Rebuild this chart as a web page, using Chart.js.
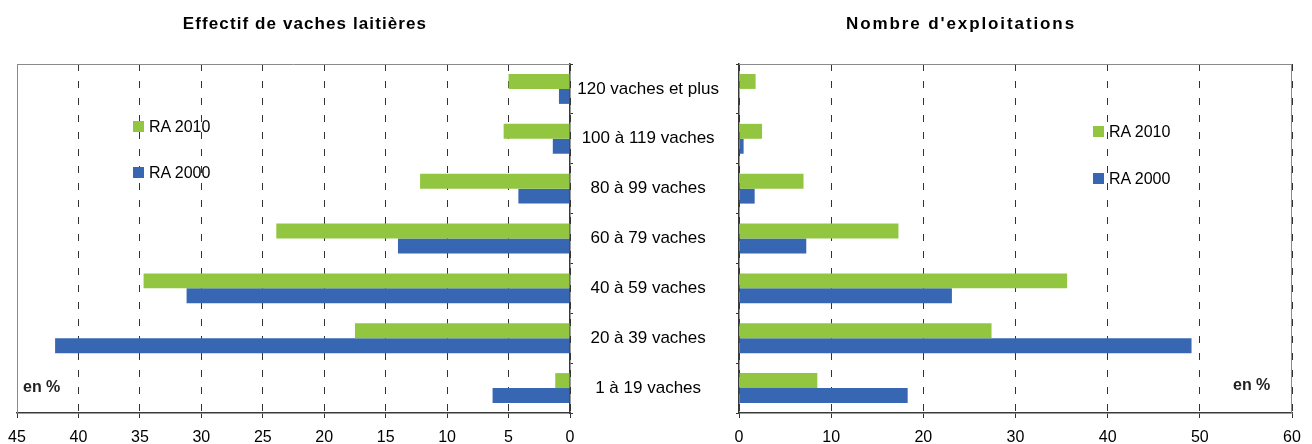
<!DOCTYPE html>
<html>
<head>
<meta charset="utf-8">
<script src="https://cdn.jsdelivr.net/npm/chart.js@4.4.1/dist/chart.umd.min.js"></script>
<style>
    body { margin: 0; background: #fff; font-family: 'Liberation Sans', Arial, sans-serif; }
    .wrap { position: relative; width: 1312px; height: 444px; overflow: hidden; }
    canvas { position: absolute; top: 0; }
    .title { position: absolute; top: 14px; font-weight: bold; font-size: 17px; text-align: center; color: #000; }
    .leg { position: absolute; font-size: 16px; color: #000; line-height: 18px; }
    .leg span { display: inline-block; width: 11px; height: 11px; margin-right: 5px; vertical-align: 0px; }
    .unit { position: absolute; font-weight: bold; font-size: 16px; color: #222; line-height: 18px; }
</style>
</head>
<body>
<div class="wrap">
    <canvas id="left" width="580" height="444" style="left:0"></canvas>
    <canvas id="right" width="742" height="444" style="left:570px"></canvas>

    <div class="title" style="left:150px;width:310px;letter-spacing:1.1px">Effectif de vaches laitières</div>
    <div class="title" style="left:806px;width:310px;letter-spacing:1.9px">Nombre d'exploitations</div>

    <div class="leg" style="left:133px;top:118px"><span style="background:#92C640"></span>RA 2010</div>
    <div class="leg" style="left:133px;top:164px"><span style="background:#3767B3"></span>RA 2000</div>
    <div class="leg" style="left:1093px;top:123px"><span style="background:#92C640"></span>RA 2010</div>
    <div class="leg" style="left:1093px;top:170px"><span style="background:#3767B3"></span>RA 2000</div>

    <div class="unit" style="left:23px;top:378px">en %</div>
    <div class="unit" style="left:1233px;top:376px">en %</div>
</div>

<script>
// classes de taille de troupeau (du haut vers le bas)
const categories = ['120 vaches et plus', '100 à 119 vaches', '80 à 99 vaches', '60 à 79 vaches', '40 à 59 vaches', '20 à 39 vaches', '1 à 19 vaches'];

// effectif de vaches laitieres, en %
const vaches2010 = [5.0, 5.4, 12.2, 23.9, 34.7, 17.5, 1.2];
const vaches2000 = [0.9, 1.4, 4.2, 14.0, 31.2, 41.9, 6.3];

// nombre d'exploitations, en %
const exploit2010 = [1.8, 2.5, 7.0, 17.3, 35.6, 27.4, 8.5];
const exploit2000 = [0, 0.5, 1.7, 7.3, 23.1, 49.1, 18.3];

// graduations
const leftMax = 45, leftStep = 5;
const rightMax = 60, rightStep = 10;

const GREEN = '#92C640';
const BLUE = '#3767B3';
const FAMILY = "'Liberation Sans', Arial, sans-serif";

// cadre gris en haut + cote exterieur
function framePlugin(side) {
    return {
        id: 'frame',
        afterDraw(chart) {
            const { ctx, chartArea: a } = chart;
            ctx.save();
            ctx.strokeStyle = '#8a8a8a';
            ctx.lineWidth = 1;
            ctx.beginPath();
            const x = side === 'left' ? Math.round(a.left) + 0.5 : Math.round(a.right) - 0.5;
            ctx.moveTo(x, a.bottom);
            ctx.lineTo(x, Math.round(a.top) + 0.5);
            ctx.moveTo(a.left, Math.round(a.top) + 0.5);
            ctx.lineTo(a.right, Math.round(a.top) + 0.5);
            ctx.stroke();
            ctx.restore();
        }
    };
}

function datasets(d2010, d2000) {
    return [
        { label: 'RA 2010', data: d2010, backgroundColor: GREEN, categoryPercentage: 0.6, barPercentage: 1 },
        { label: 'RA 2000', data: d2000, backgroundColor: BLUE, categoryPercentage: 0.6, barPercentage: 1 }
    ];
}

function valueAxis(max, step, reverse) {
    return {
        type: 'linear',
        reverse: reverse,
        min: 0,
        max: max,
        ticks: { stepSize: step, color: '#000', font: { family: FAMILY, size: 16 }, padding: 10, maxRotation: 0, autoSkip: false },
        grid: { color: '#333', lineWidth: 1, tickLength: 5, tickColor: '#333' },
        border: { color: '#3a3a3a', width: 1.5, dash: [7, 10] },
        afterFit: s => {
            s.height = 31;
            // pas de marge pour les libelles extremes : le cadre est place a la main
            s.paddingLeft = 0;
            s.paddingRight = 0;
        }
    };
}

const common = {
    indexAxis: 'y',
    responsive: false,
    animation: false,
    devicePixelRatio: 1,
    plugins: { legend: { display: false }, tooltip: { enabled: false }, title: { display: false } }
};

new Chart(document.querySelector('#left'), {
    type: 'bar',
    data: { labels: categories, datasets: datasets(vaches2010, vaches2000) },
    options: {
        ...common,
        layout: { padding: { left: 17, top: 64, right: 0, bottom: 0 } },
        scales: {
            x: valueAxis(leftMax, leftStep, true),
            y: {
                position: 'right',
                offset: true,
                ticks: { display: false },
                grid: { drawOnChartArea: false, offset: true, tickLength: 3, tickColor: '#333' },
                border: { color: '#3a3a3a', width: 1.5 },
                afterFit: s => { s.width = 10; }
            }
        }
    },
    plugins: [framePlugin('left')]
});

new Chart(document.querySelector('#right'), {
    type: 'bar',
    data: { labels: categories, datasets: datasets(exploit2010, exploit2000) },
    options: {
        ...common,
        layout: { padding: { left: 0, top: 64, right: 20, bottom: 0 } },
        scales: {
            x: valueAxis(rightMax, rightStep, false),
            y: {
                position: 'left',
                offset: true,
                ticks: { crossAlign: 'center', padding: 17, color: '#000', font: { family: FAMILY, size: 17 } },
                grid: { drawOnChartArea: false, offset: true, tickLength: 3, tickColor: '#333' },
                border: { color: '#3a3a3a', width: 1.5 },
                afterFit: s => { s.width = 169; }
            }
        }
    },
    plugins: [framePlugin('right')]
});
</script>
</body>
</html>
